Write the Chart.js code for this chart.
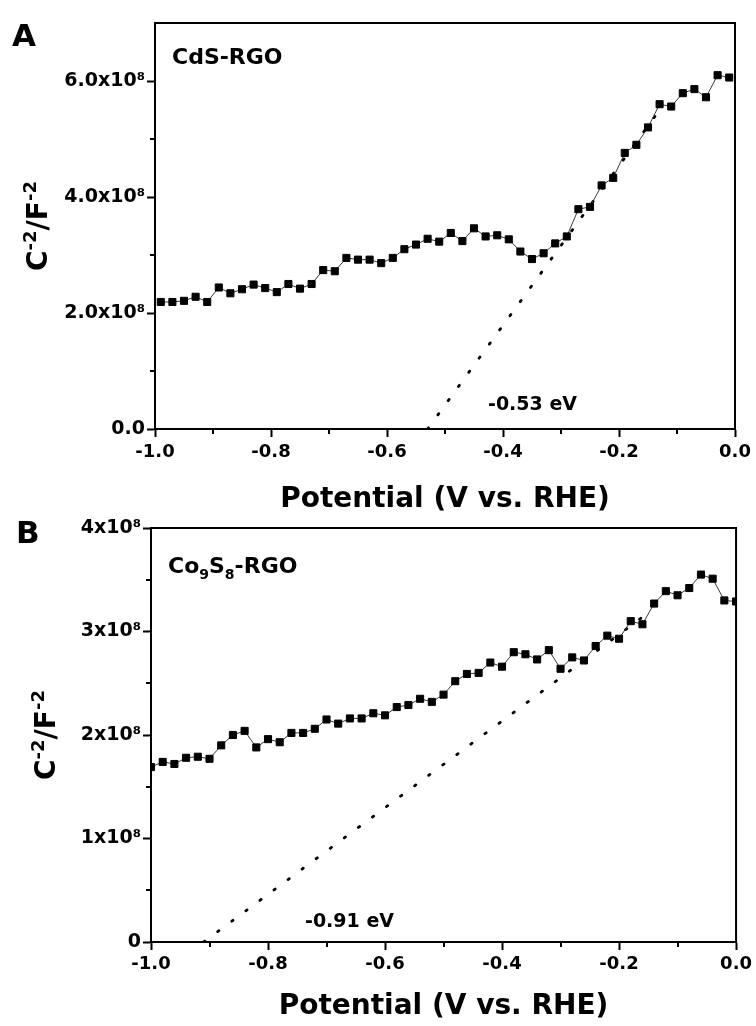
<!DOCTYPE html>
<html>
<head>
<meta charset="utf-8">
<script src="https://cdn.jsdelivr.net/npm/chart.js@4.4.1/dist/chart.umd.min.js"></script>
<style>
html,body{margin:0;padding:0;background:#fff;}
#wrap{position:relative;width:756px;height:1026px;overflow:hidden;background:#fff;}
#ca{position:absolute;left:0;top:0;width:756px;height:520px;}
#cb{position:absolute;left:0;top:505px;width:756px;height:521px;}
</style>
</head>
<body>
<div id="wrap">
<canvas id="ca" width="756" height="520"></canvas>
<canvas id="cb" width="756" height="521"></canvas>
</div>
<script>
// ---------- Panel A: CdS-RGO ----------
const potentialA = [-0.99,-0.97,-0.95,-0.93,-0.91,-0.89,-0.87,-0.85,-0.83,-0.81,
  -0.79,-0.77,-0.75,-0.73,-0.71,-0.69,-0.67,-0.65,-0.63,-0.61,
  -0.59,-0.57,-0.55,-0.53,-0.51,-0.49,-0.47,-0.45,-0.43,-0.41,
  -0.39,-0.37,-0.35,-0.33,-0.31,-0.29,-0.27,-0.25,-0.23,-0.21,
  -0.19,-0.17,-0.15,-0.13,-0.11,-0.09,-0.07,-0.05,-0.03,-0.01];
// C^-2 in units of 1e8 F^-2
const invCapA_e8 = [2.19,2.19,2.21,2.28,2.19,2.44,2.34,2.41,2.49,2.43,
  2.36,2.50,2.42,2.50,2.74,2.72,2.95,2.92,2.92,2.86,
  2.95,3.10,3.18,3.28,3.23,3.38,3.24,3.46,3.32,3.34,
  3.27,3.06,2.93,3.03,3.20,3.32,3.79,3.83,4.20,4.33,
  4.76,4.90,5.20,5.60,5.56,5.79,5.86,5.72,6.10,6.06];
const fitA_x = [-0.53, -0.125];
const fitA_e8 = [0, 5.57];

// ---------- Panel B: Co9S8-RGO ----------
const potentialB = [-1.00,-0.98,-0.96,-0.94,-0.92,-0.90,-0.88,-0.86,-0.84,-0.82,
  -0.80,-0.78,-0.76,-0.74,-0.72,-0.70,-0.68,-0.66,-0.64,-0.62,
  -0.60,-0.58,-0.56,-0.54,-0.52,-0.50,-0.48,-0.46,-0.44,-0.42,
  -0.40,-0.38,-0.36,-0.34,-0.32,-0.30,-0.28,-0.26,-0.24,-0.22,
  -0.20,-0.18,-0.16,-0.14,-0.12,-0.10,-0.08,-0.06,-0.04,-0.02,0.00];
const invCapB_e8 = [1.69,1.74,1.72,1.78,1.79,1.77,1.90,2.00,2.04,1.88,
  1.96,1.93,2.02,2.02,2.06,2.15,2.11,2.16,2.16,2.21,
  2.19,2.27,2.29,2.35,2.32,2.39,2.52,2.59,2.60,2.70,
  2.66,2.80,2.78,2.73,2.82,2.64,2.75,2.72,2.86,2.96,
  2.93,3.10,3.07,3.27,3.39,3.35,3.42,3.55,3.51,3.30,3.29];
const fitB_x = [-0.91, -0.155];
const fitB_e8 = [0, 3.16];

// ---------- Ticks ----------
const xTickValues = [-1.0,-0.8,-0.6,-0.4,-0.2,0.0];
const xTickLabels = ['-1.0','-0.8','-0.6','-0.4','-0.2','0.0'];
const xMinorTicks = [-0.9,-0.7,-0.5,-0.3,-0.1];
const yTicksA_e8 = [0,2,4,6];
const yTickLabelsA = ['0.0','2.0x10\u2078','4.0x10\u2078','6.0x10\u2078'];
const yMinorA_e8 = [1,3,5];
const yTicksB_e8 = [0,1,2,3,4];
const yTickLabelsB = ['0','1x10\u2078','2x10\u2078','3x10\u2078','4x10\u2078'];
const yMinorB_e8 = [0.5,1.5,2.5,3.5];

// ---------- Texts ----------
const xTitle = 'Potential (V vs. RHE)';
const yTitleParts = [['C','n'],['-2','sup'],['/F','n'],['-2','sup']];
const sampleA = [['CdS-RGO','n']];
const sampleB = [['Co','n'],['9','sub'],['S','n'],['8','sub'],['-RGO','n']];
const interceptA = '-0.53 eV';
const interceptB = '-0.91 eV';

const FAM = '"DejaVu Sans", "Liberation Sans", sans-serif';
const E8 = 1e8;

function drawRich(ctx, parts, x, y, size, align) {
  ctx.save();
  ctx.textBaseline = 'alphabetic';
  ctx.textAlign = 'left';
  const small = Math.round(size * 0.64);
  const widths = parts.map(([t, k]) => {
    ctx.font = 'bold ' + (k === 'n' ? size : small) + 'px ' + FAM;
    return ctx.measureText(t).width;
  });
  const total = widths.reduce((a, b) => a + b, 0);
  let cx = align === 'center' ? x - total / 2 : x;
  parts.forEach(([t, k], i) => {
    ctx.font = 'bold ' + (k === 'n' ? size : small) + 'px ' + FAM;
    const dy = k === 'sup' ? -size * 0.40 : (k === 'sub' ? size * 0.25 : 0);
    ctx.fillText(t, cx, y + dy);
    cx += widths[i];
  });
  ctx.restore();
}

function makeExtras(cfg) {
  return {
    id: 'extras' + cfg.letter,
    afterDraw(chart) {
      const ctx = chart.ctx, a = chart.chartArea, xs = chart.scales.x, ys = chart.scales.y;
      ctx.save();
      ctx.strokeStyle = '#000';
      ctx.lineWidth = 2;
      ctx.beginPath();
      ctx.moveTo(a.left - 1, a.top);
      ctx.lineTo(a.right, a.top);
      ctx.lineTo(a.right, a.bottom + 1);
      ctx.stroke();
      ctx.beginPath();
      cfg.minorX.forEach(v => {
        const px = Math.round(xs.getPixelForValue(v));
        ctx.moveTo(px, a.bottom);
        ctx.lineTo(px, a.bottom + 5);
      });
      cfg.minorY.forEach(v => {
        const py = Math.round(ys.getPixelForValue(v));
        ctx.moveTo(a.left, py);
        ctx.lineTo(a.left - 5, py);
      });
      ctx.stroke();
      ctx.fillStyle = '#000';
      drawRich(ctx, [[cfg.letter, 'n']], cfg.letterX, cfg.letterY, 31, 'left');
      drawRich(ctx, cfg.sample, a.left + cfg.sampleDX, a.top + cfg.sampleDY, 22, 'left');
      drawRich(ctx, [[cfg.intercept, 'n']], a.left + cfg.intDX, a.bottom - cfg.intDY, 19, 'left');
      ctx.translate(cfg.yTitleX, (a.top + a.bottom) / 2);
      ctx.rotate(-Math.PI / 2);
      drawRich(ctx, yTitleParts, 0, 0, 28, 'center');
      ctx.restore();
    }
  };
}

function makeChart(id, p) {
  const pts = p.xs.map((x, i) => ({x: x, y: p.ys[i] * E8}));
  const fit = p.fx.map((x, i) => ({x: x, y: p.fy[i] * E8}));
  const xTickFont = {family: FAM, size: 18, weight: 'bold'};
  const yTickFont = {family: FAM, size: 19, weight: 'bold'};
  return new Chart(document.getElementById(id), {
    type: 'scatter',
    data: {
      datasets: [
        {
          label: p.name,
          data: pts,
          showLine: true,
          borderColor: '#3a3a3a',
          borderWidth: 1,
          pointStyle: 'rect',
          pointRadius: 5,
          pointHoverRadius: 5,
          pointBackgroundColor: '#000',
          pointBorderColor: '#000',
          pointBorderWidth: 1,
          order: 0
        },
        {
          label: 'fit',
          data: fit,
          showLine: true,
          borderColor: '#000',
          borderWidth: 2.8,
          borderDash: [1.5, 16],
          borderCapStyle: 'round',
          pointRadius: 0,
          pointHoverRadius: 0,
          order: 1
        }
      ]
    },
    options: {
      responsive: false,
      devicePixelRatio: 1,
      animation: false,
      events: [],
      layout: {padding: {left: 0, top: 23, right: p.padRight, bottom: 0}},
      plugins: {legend: {display: false}, tooltip: {enabled: false}},
      scales: {
        x: {
          type: 'linear',
          position: 'bottom',
          min: -1.0,
          max: 0.0,
          afterBuildTicks: s => { s.ticks = xTickValues.map(v => ({value: v})); },
          afterFit: s => { s.height = p.xAxisH; },
          ticks: {
            callback: (v, i) => xTickLabels[i],
            font: xTickFont, color: '#000', padding: p.xPad,
            maxRotation: 0, minRotation: 0, autoSkip: false
          },
          grid: {display: true, drawOnChartArea: false, drawTicks: true,
                 tickLength: 8, tickWidth: 2, tickColor: '#000', color: '#000'},
          border: {display: true, color: '#000', width: 2},
          title: {display: true, text: xTitle, color: '#000',
                  font: {family: FAM, size: 28, weight: 'bold', lineHeight: 1.2},
                  padding: {top: 0, bottom: p.titlePad}}
        },
        y: {
          type: 'linear',
          position: 'left',
          min: 0,
          max: p.yMax * E8,
          afterBuildTicks: s => { s.ticks = p.yTicks.map(v => ({value: v * E8})); },
          afterFit: s => { s.width = p.yAxisW; },
          ticks: {
            callback: (v, i) => p.yLabels[i],
            font: yTickFont, color: '#000', padding: 2, autoSkip: false
          },
          grid: {display: true, drawOnChartArea: false, drawTicks: true,
                 tickLength: 8, tickWidth: 2, tickColor: '#000', color: '#000'},
          border: {display: true, color: '#000', width: 2}
        }
      }
    },
    plugins: [makeExtras(p.extras)]
  });
}

makeChart('ca', {
  name: 'CdS-RGO', xs: potentialA, ys: invCapA_e8, fx: fitA_x, fy: fitA_e8,
  padRight: 21, xAxisH: 91, yAxisW: 155, xPad: 5, titlePad: 3,
  yMax: 7, yTicks: yTicksA_e8, yLabels: yTickLabelsA,
  extras: {letter: 'A', letterX: 12, letterY: 46, minorX: xMinorTicks,
           minorY: yMinorA_e8.map(v => v * E8),
           sample: sampleA, sampleDX: 17, sampleDY: 41,
           intercept: interceptA, intDX: 333, intDY: 19, yTitleX: 47}
});

makeChart('cb', {
  name: 'Co9S8-RGO', xs: potentialB, ys: invCapB_e8, fx: fitB_x, fy: fitB_e8,
  padRight: 19, xAxisH: 84, yAxisW: 151, xPad: 4, titlePad: 2,
  yMax: 4, yTicks: yTicksB_e8, yLabels: yTickLabelsB,
  extras: {letter: 'B', letterX: 16, letterY: 38, minorX: xMinorTicks,
           minorY: yMinorB_e8.map(v => v * E8),
           sample: sampleB, sampleDX: 17, sampleDY: 45,
           intercept: interceptB, intDX: 154, intDY: 15, yTitleX: 55}
});
</script>
</body>
</html>
